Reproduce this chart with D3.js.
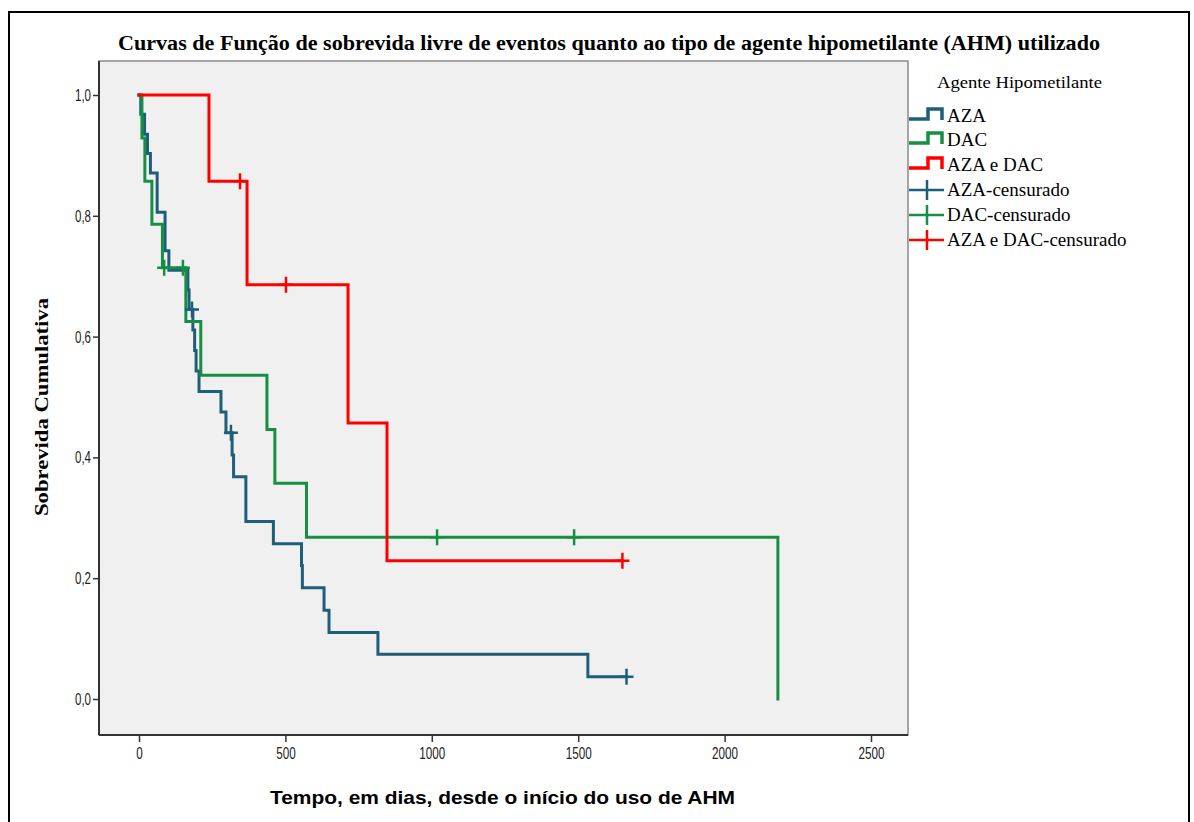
<!DOCTYPE html>
<html>
<head>
<meta charset="utf-8">
<script src="https://cdn.jsdelivr.net/npm/d3@7"></script>
<style>
  body { margin:0; background:#fff; }
  .serif { font-family: "Liberation Serif", "DejaVu Serif", serif; }
  .sans { font-family: "Liberation Sans Narrow", "Liberation Sans", Arial, sans-serif; }
</style>
</head>
<body>
<div id="chart_box"></div>
<script>
    // tick values
    var x_ticks = [0, 500, 1000, 1500, 2000, 2500]
    var y_ticks = [0, 0.2, 0.4, 0.6, 0.8, 1.0]
    var groups = ['AZA', 'DAC', 'AZA e DAC']

    // AZA: step times (days) and survival after each step
    var aza_time = [0, 6, 19, 29, 39, 62, 89, 102, 167, 171, 184, 190, 195, 205, 280, 297, 318, 323, 365, 459, 555, 558, 632, 649, 816, 1533, 1665]
    var aza_surv = [1.0, 0.968, 0.935, 0.903, 0.871, 0.806, 0.742, 0.710, 0.677, 0.645, 0.611, 0.577, 0.543, 0.509, 0.475, 0.441, 0.404, 0.368, 0.294, 0.257, 0.221, 0.184, 0.147, 0.110, 0.074, 0.037, 0.037]
    var aza_cens = [181, 314, 1665]

    // DAC
    var dac_time = [0, 10, 20, 44, 80, 160, 211, 437, 464, 572, 2182]
    var dac_surv = [1.0, 0.929, 0.857, 0.786, 0.714, 0.625, 0.536, 0.446, 0.357, 0.268, 0.0]
    var dac_cens = [86, 150, 1018, 1486]

    // AZA e DAC
    var both_time = [0, 239, 369, 714, 847, 1651]
    var both_surv = [1.0, 0.857, 0.686, 0.457, 0.229, 0.229]
    var both_cens = [345, 502, 1651]

    //globals
    var width = 1194
    var height = 822
    var plot = {left: 99, right: 908, top: 61, bottom: 735}
    var xscale = d3.scaleLinear().domain([0, 2500]).range([139, 871])
    var yscale = d3.scaleLinear().domain([0, 1]).range([699, 95])
    var color = {'AZA': '#1f5e7b', 'DAC': '#168f45', 'AZA e DAC': '#ff0000'}
    var comma = d3.formatLocale({decimal: ',', thousands: '', grouping: [3], currency: ['', '']})
    var chart_box

    var series = [
        {name: 'AZA', time: aza_time, surv: aza_surv, cens: aza_cens},
        {name: 'DAC', time: dac_time, surv: dac_surv, cens: dac_cens},
        {name: 'AZA e DAC', time: both_time, surv: both_surv, cens: both_cens}
    ]

    // survival value at time t (step function)
    function surv_at(s, t){
        var v = s.surv[0]
        for (var i = 0; i < s.time.length; i++){
            if (s.time[i] <= t) v = s.surv[i]
        }
        return v
    }

    // narrow look for tick labels
    function narrow_len(str){
        var n = 0
        for (var c of str){ n += (c == ',') ? 3 : 6.5 }
        return n
    }

    function load_chart_box(){
        chart_box = d3.select('#chart_box').append('svg')
            .attr('width', width)
            .attr('height', height)

        // outer frame
        chart_box.append('rect')
            .attr('x', 9).attr('y', 12)
            .attr('width', 1180).attr('height', 840)
            .attr('fill', 'none').attr('stroke', '#000').attr('stroke-width', 2)

        // title
        chart_box.append('text')
            .attr('class', 'serif')
            .attr('x', 118).attr('y', 50)
            .attr('font-size', 20).attr('font-weight', 'bold')
            .attr('textLength', 982).attr('lengthAdjust', 'spacingAndGlyphs')
            .text('Curvas de Função de sobrevida livre de eventos quanto ao tipo de agente hipometilante (AHM) utilizado')

        // plot background
        chart_box.append('rect')
            .attr('x', plot.left).attr('y', plot.top)
            .attr('width', plot.right - plot.left).attr('height', plot.bottom - plot.top)
            .attr('fill', '#f0f0f0').attr('stroke', '#8a8a8a').attr('stroke-width', 1.5)

        // curves
        var line = d3.line()
            .x(function(d){ return xscale(d[0]) })
            .y(function(d){ return yscale(d[1]) })
            .curve(d3.curveStepAfter)

        series.forEach(function(s){
            var pts = s.time.map(function(t, i){ return [t, s.surv[i]] })
            chart_box.append('path')
                .attr('d', line(pts))
                .attr('fill', 'none')
                .attr('stroke', color[s.name])
                .attr('stroke-width', 3)
                .attr('stroke-linejoin', 'miter')
                .attr('stroke-linecap', 'square')
        })

        // censored marks
        series.forEach(function(s){
            chart_box.selectAll(null)
                .data(s.cens)
                .enter().append('path')
                .attr('d', function(t){
                    var cx = xscale(t), cy = yscale(surv_at(s, t))
                    return 'M' + (cx - 7) + ',' + cy + 'H' + (cx + 7) + 'M' + cx + ',' + (cy - 8) + 'V' + (cy + 8)
                })
                .attr('fill', 'none')
                .attr('stroke', color[s.name])
                .attr('stroke-width', 2.5)
        })

        // axis lines
        chart_box.append('line')
            .attr('x1', plot.left).attr('y1', plot.top).attr('x2', plot.left).attr('y2', plot.bottom)
            .attr('stroke', '#333').attr('stroke-width', 2)
        chart_box.append('line')
            .attr('x1', plot.left).attr('y1', plot.bottom).attr('x2', plot.right).attr('y2', plot.bottom)
            .attr('stroke', '#333').attr('stroke-width', 2)

        var yaxis = chart_box.append('g')
            .attr('transform', 'translate(' + plot.left + ',0)')
            .call(d3.axisLeft(yscale).tickValues(y_ticks).tickFormat(comma.format('.1f')).tickSize(6).tickPadding(2))
        var xaxis = chart_box.append('g')
            .attr('transform', 'translate(0,' + plot.bottom + ')')
            .call(d3.axisBottom(xscale).tickValues(x_ticks).tickFormat(d3.format('d')).tickSize(7).tickPadding(5))
        ;[yaxis, xaxis].forEach(function(a){
            a.select('.domain').remove()
            a.selectAll('line').attr('stroke', '#333').attr('stroke-width', 1.5)
            a.selectAll('text')
                .attr('class', 'sans').attr('font-size', 17).attr('fill', '#222')
                .attr('textLength', function(){ return narrow_len(this.textContent) })
                .attr('lengthAdjust', 'spacingAndGlyphs')
        })

        // axis titles
        chart_box.append('text')
            .attr('class', 'serif')
            .attr('transform', 'translate(48,407) rotate(-90)')
            .attr('text-anchor', 'middle')
            .attr('font-size', 18).attr('font-weight', 'bold')
            .attr('textLength', 218).attr('lengthAdjust', 'spacingAndGlyphs')
            .text('Sobrevida Cumulativa')
        chart_box.append('text')
            .attr('class', 'sans')
            .attr('x', 270).attr('y', 804)
            .attr('font-size', 19).attr('font-weight', 'bold')
            .attr('textLength', 465).attr('lengthAdjust', 'spacingAndGlyphs')
            .text('Tempo, em dias, desde o início do uso de AHM')
    }

    function load_legend(){
        var lg = chart_box.append('g')
        lg.append('text')
            .attr('class', 'serif')
            .attr('x', 937).attr('y', 88)
            .attr('font-size', 16)
            .attr('textLength', 165).attr('lengthAdjust', 'spacingAndGlyphs')
            .text('Agente Hipometilante')

        var row_y = [116, 140, 165, 190, 215, 240]
        groups.forEach(function(g, i){
            var cy = row_y[i]
            lg.append('path')
                .attr('d', 'M909,' + (cy + 3) + 'H928V' + (cy - 7) + 'H942V' + (cy + 4))
                .attr('fill', 'none').attr('stroke', color[g]).attr('stroke-width', 3.5)
            lg.append('text')
                .attr('class', 'serif')
                .attr('x', 947).attr('y', cy + 6)
                .attr('font-size', 19)
                .text(g)
        })
        groups.forEach(function(g, i){
            var cy = row_y[i + 3]
            lg.append('path')
                .attr('d', 'M909,' + cy + 'H944M927,' + (cy - 10) + 'V' + (cy + 10))
                .attr('fill', 'none').attr('stroke', color[g]).attr('stroke-width', 2.5)
            lg.append('text')
                .attr('class', 'serif')
                .attr('x', 947).attr('y', cy + 6)
                .attr('font-size', 19)
                .text(g + '-censurado')
        })
    }

    load_chart_box()
    load_legend()
</script>
</body>
</html>
